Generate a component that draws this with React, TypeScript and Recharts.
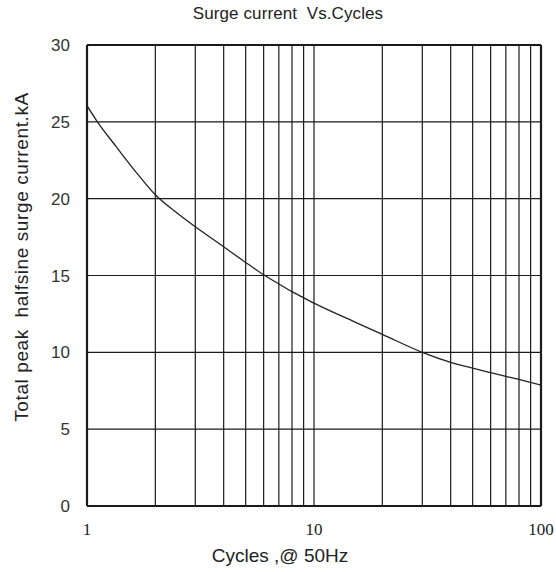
import { LineChart, Line, XAxis, YAxis, CartesianGrid, ReferenceLine } from 'recharts';

// (log x axis)
const cycles = [1, 1.1, 1.35, 1.65, 2, 2.5, 3, 4, 5, 6, 7, 8, 9, 10, 15, 20, 30, 40, 50, 60, 70, 80, 90, 100];
const surgeKA = [26.05, 25.1, 23.35, 21.7, 20.25, 19.05, 18.17, 16.87, 15.85, 15.05, 14.45, 13.95, 13.55, 13.2, 12.0, 11.17, 10.0, 9.35, 8.97, 8.68, 8.44, 8.24, 8.04, 7.87];

const xGridTicks = [1, 2, 3, 4, 5, 6, 7, 8, 9, 10, 20, 30, 40, 50, 60, 70, 80, 90, 100];
const xLabelTicks = [1, 10, 100];
const yTicks = [0, 5, 10, 15, 20, 25, 30];

const data = cycles.map((c, i) => ({ cycles: c, current: surgeKA[i] }));

const sans = '"Liberation Sans", Arial, sans-serif';
const serif = '"Liberation Serif", "Times New Roman", serif';

export default function App() {
  return (
    <div style={{ position: 'relative', width: 556, height: 572, background: '#fff' }}>
      <style>{'body{margin:0}'}</style>
      <LineChart
        width={556}
        height={572}
        data={data}
        margin={{ top: 45, right: 15, bottom: 0, left: 0 }}
      >
        <CartesianGrid stroke="#1a1a1a" strokeWidth={1.2} horizontalValues={yTicks} verticalValues={xGridTicks} />
        <XAxis
          dataKey="cycles"
          type="number"
          scale="log"
          domain={[1, 100]}
          ticks={xGridTicks}
          interval={0}
          height={66}
          axisLine={false}
          tickLine={false}
          tickSize={0}
          tickMargin={17}
          tickFormatter={(v: number) => (xLabelTicks.includes(v) ? String(v) : '')}
          tick={{ fontFamily: serif, fontSize: 17, fill: '#222' }}
          allowDataOverflow
        />
        <YAxis
          type="number"
          domain={[0, 30]}
          ticks={yTicks}
          interval={0}
          width={87}
          axisLine={false}
          tickLine={false}
          tickSize={0}
          tickMargin={17}
          tick={{ fontFamily: sans, fontSize: 17, fill: '#333' }}
        />
        <ReferenceLine y={0} stroke="#1a1a1a" strokeWidth={2.2} />
        <ReferenceLine y={30} stroke="#1a1a1a" strokeWidth={2.2} />
        <ReferenceLine x={1} stroke="#1a1a1a" strokeWidth={2.2} />
        <ReferenceLine x={100} stroke="#1a1a1a" strokeWidth={2.2} />
        <Line
          type="monotone"
          dataKey="current"
          stroke="#222"
          strokeWidth={1.3}
          dot={false}
          isAnimationActive={false}
        />
      </LineChart>
      <div
        style={{
          position: 'absolute', left: 288, top: 4, transform: 'translateX(-50%)',
          fontFamily: sans, fontSize: 17, color: '#222', whiteSpace: 'pre', letterSpacing: 0.1,
        }}
      >
        {'Surge current  Vs.Cycles'}
      </div>
      <div
        style={{
          position: 'absolute', left: 280, top: 545, transform: 'translateX(-50%)',
          fontFamily: sans, fontSize: 19, color: '#222', whiteSpace: 'pre',
        }}
      >
        {'Cycles ,@ 50Hz'}
      </div>
      <div style={{ position: 'absolute', left: 22, top: 257, width: 0, height: 0 }}>
        <div
          style={{
            position: 'absolute', left: 0, top: 0, transform: 'translate(-50%, -50%) rotate(-90deg)',
            fontFamily: sans, fontSize: 19, color: '#222', whiteSpace: 'pre', letterSpacing: 0.6,
          }}
        >
          {'Total peak  halfsine surge current.kA'}
        </div>
      </div>
    </div>
  );
}
